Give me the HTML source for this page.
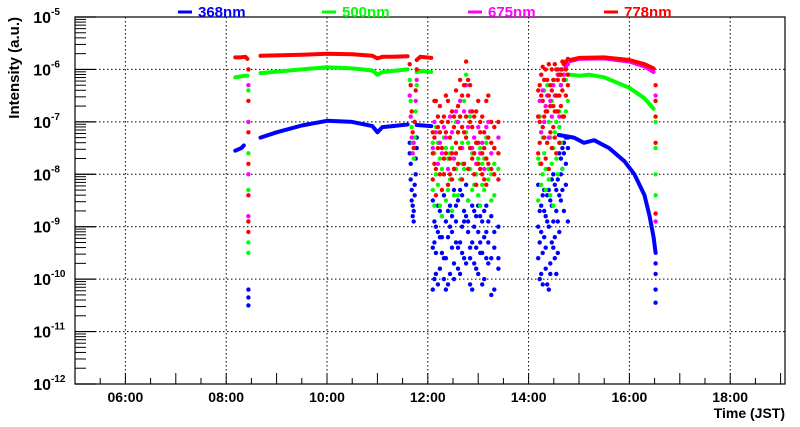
<!DOCTYPE html>
<html><head><meta charset="utf-8"><style>
html,body{margin:0;padding:0;background:#fff;}
svg{display:block;font-family:"Liberation Sans",Arial,sans-serif;font-weight:bold;}
</style></head><body>
<svg id="chart" width="800" height="427" viewBox="0 0 800 427" xmlns="http://www.w3.org/2000/svg">
<g id="grid"></g>
<g id="marks"></g>
<g id="axes"></g>
<g id="legend"></g>
</svg>
<script>
// ---- data (time in hours, values as log10 intensity) ----
const xTickLabels = ["06:00","08:00","10:00","12:00","14:00","16:00","18:00"];
const xTickHours = [6,8,10,12,14,16,18];
const yDecades = [-12,-11,-10,-9,-8,-7,-6,-5];

const seriesNames = ["368nm","500nm","675nm","778nm"];
const seriesColors = ["#0000ff","#00ff00","#ff00ff","#ff0000"];

// smooth segments
const redSeg1T = [8.18,8.28,8.38,8.42];
const redSeg1V = [-5.77,-5.77,-5.76,-5.8];
const redSeg2T = [8.68,9.5,10.0,10.5,10.9,11.0,11.1,11.3,11.6];
const redSeg2V = [-5.74,-5.72,-5.70,-5.71,-5.74,-5.79,-5.76,-5.76,-5.75];
const redSeg3T = [11.78,11.85,12.07];
const redSeg3V = [-5.82,-5.76,-5.78];
const redSeg4T = [14.83,15.0,15.5,16.0,16.3,16.48];
const redSeg4V = [-5.82,-5.78,-5.77,-5.82,-5.9,-5.98];
const magSeg4T = [14.83,15.0,15.5,16.0,16.3,16.48];
const magSeg4V = [-5.84,-5.8,-5.79,-5.85,-5.94,-6.05];

const greenSeg1T = [8.18,8.38,8.42];
const greenSeg1V = [-6.15,-6.12,-6.12];
const greenSeg2T = [8.68,9.5,10.0,10.5,10.9,11.0,11.1,11.6];
const greenSeg2V = [-6.07,-6.0,-5.96,-5.98,-6.02,-6.1,-6.05,-6.0];
const greenSeg3T = [11.78,11.9,12.07];
const greenSeg3V = [-6.05,-6.03,-6.05];
const greenSeg4T = [14.83,15.0,15.2,15.5,16.0,16.3,16.48];
const greenSeg4V = [-6.1,-6.12,-6.1,-6.15,-6.35,-6.55,-6.75];

const blueSeg1T = [8.18,8.30,8.35];
const blueSeg1V = [-7.55,-7.5,-7.45];
const blueSeg2T = [8.68,9.0,9.5,10.0,10.5,10.9,11.0,11.1,11.3,11.6];
const blueSeg2V = [-7.3,-7.2,-7.07,-6.98,-7.0,-7.08,-7.2,-7.1,-7.08,-7.05];
const blueSeg3T = [11.78,12.07];
const blueSeg3V = [-7.06,-7.08];
const blueSeg4T = [14.6,14.9,15.1,15.3,15.6,15.9,16.1,16.3,16.4,16.48,16.52];
const blueSeg4V = [-7.25,-7.3,-7.4,-7.35,-7.5,-7.75,-8.0,-8.4,-8.8,-9.2,-9.5];

// scatter clusters
const tA = [11.64,11.66,11.68,11.70,11.72,11.74,11.76,11.78];
const redA = [-5.9,-6.3,-6.8,-7.2,-7.5,-7.0,-6.4,-6.0];
const greenA = [-6.2,-6.6,-7.1,-7.4,-7.7,-7.3,-6.8,-6.3];
const blueA = [-7.4,-7.8,-8.3,-8.6,-8.9,-8.4,-8.0,-7.5];
const blueA2 = [-7.6,-8.1,-8.5,-8.8,-8.7,-8.2,-7.7,-7.3];
const magA = [-6.5,-6.9,-7.3,-7.6,-7.4,-7.0,-6.6,-6.2];

const tB = [12.10,12.13,12.16,12.20,12.24,12.28,12.32,12.36,12.40,12.44,12.48,12.52,12.56,12.60,12.64,12.68,12.72,12.76,12.80,12.84,12.88,12.92,12.96,13.00,13.04,13.08,13.12,13.16,13.20,13.26,13.32,13.40];
const redB1 = [-7.2,-7.8,-6.6,-7.5,-8.0,-7.0,-6.9,-7.6,-8.2,-7.3,-6.8,-7.9,-7.4,-6.7,-6.2,-7.1,-6.3,-5.85,-6.5,-7.0,-7.7,-6.9,-7.4,-7.8,-7.2,-8.0,-7.5,-6.6,-7.3,-7.9,-7.1,-7.6];
const redB2 = [-8.1,-6.6,-7.9,-6.9,-7.2,-8.3,-7.7,-6.5,-7.0,-8.0,-7.6,-7.1,-6.4,-7.8,-7.5,-8.1,-7.2,-6.9,-7.9,-6.3,-6.8,-7.6,-8.2,-6.6,-7.9,-6.9,-8.1,-7.7,-6.5,-7.4,-8.0,-7.0];
const redB3 = [-7.6,-7.3,-8.4,-7.1,-6.7,-7.5,-8.0,-7.2,-6.6,-7.7,-8.1,-6.9,-7.6,-7.2,-6.9,-6.5,-7.8,-7.3,-6.2,-7.5,-7.1,-8.0,-6.8,-7.4,-7.0,-7.6,-7.2,-8.2,-7.8,-7.0,-7.5,-8.1];
const greenB1 = [-8.3,-7.6,-8.0,-7.4,-8.6,-7.9,-7.3,-8.5,-7.7,-8.1,-7.5,-8.4,-7.9,-7.2,-6.9,-7.8,-6.6,-6.1,-7.4,-7.9,-8.3,-7.6,-8.0,-8.4,-7.5,-8.2,-7.7,-7.3,-8.1,-8.5,-7.8,-7.9];
const greenB2 = [-7.4,-8.6,-7.1,-8.2,-7.7,-8.8,-8.0,-7.5,-8.3,-7.6,-8.7,-7.9,-7.0,-8.4,-8.1,-7.4,-7.9,-7.2,-8.5,-6.9,-7.6,-8.2,-7.4,-7.7,-8.6,-7.8,-8.3,-7.4,-7.9,-8.0,-8.4,-7.6];
const blueB1 = [-9.4,-10.0,-9.0,-8.6,-9.8,-9.2,-8.4,-9.6,-10.1,-9.0,-8.8,-9.7,-9.3,-8.5,-8.3,-9.5,-8.7,-8.2,-9.1,-9.6,-10.2,-9.0,-9.4,-9.9,-8.8,-9.5,-9.2,-8.6,-9.7,-10.3,-9.1,-9.6];
const blueB2 = [-8.5,-9.3,-9.9,-9.1,-8.7,-9.5,-10.0,-8.9,-9.2,-8.6,-9.4,-8.3,-8.9,-9.8,-9.3,-8.4,-9.6,-8.8,-8.9,-9.4,-8.6,-9.7,-8.8,-9.1,-9.5,-8.9,-10.0,-9.6,-9.3,-8.8,-9.4,-9.0];
const blueB3 = [-10.2,-8.9,-9.5,-10.1,-9.2,-8.8,-9.6,-10.2,-8.7,-9.9,-9.1,-10.0,-8.6,-9.4,-9.9,-9.0,-8.9,-9.7,-8.5,-10.1,-9.3,-8.7,-9.8,-8.6,-9.3,-10.1,-8.7,-9.1,-8.9,-9.6,-10.2,-9.8];
const magB = [-7.5,-7.0,-7.2,-7.8,-7.4,-7.6,-7.1,-7.3,-7.9,-6.9,-7.2,-7.7,-6.8,-7.0,-6.6,-7.5,-6.8,-6.3,-7.1,-6.8,-7.5,-7.3,-7.8,-7.1,-7.6,-7.4,-7.9,-7.1,-7.0,-7.6,-7.5,-7.3];

const tC = [14.19,14.22,14.25,14.28,14.31,14.34,14.37,14.40,14.43,14.46,14.49,14.52,14.55,14.58,14.61,14.64,14.67,14.70,14.74,14.78];
const redC1 = [-6.4,-7.0,-6.1,-6.6,-7.3,-6.0,-6.8,-5.9,-6.3,-7.5,-6.2,-5.9,-6.5,-6.0,-6.1,-6.7,-5.85,-5.9,-5.85,-5.8];
const redC2 = [-7.6,-6.3,-7.8,-5.95,-6.9,-7.7,-6.2,-7.9,-6.7,-6.4,-7.1,-6.8,-7.6,-6.2,-7.4,-6.1,-6.4,-6.9,-6.0,-6.3];
const redC3 = [-6.9,-7.4,-6.5,-7.1,-6.2,-6.8,-7.4,-6.5,-7.2,-6.0,-6.7,-7.3,-6.0,-6.8,-6.5,-6.0,-6.9,-6.2,-6.5,-6.1];
const greenC1 = [-7.7,-6.9,-8.2,-7.3,-6.4,-7.9,-6.3,-7.0,-8.4,-6.6,-7.5,-6.2,-7.0,-6.5,-6.8,-6.3,-6.4,-6.2,-6.2,-6.1];
const greenC2 = [-8.5,-7.8,-7.2,-8.0,-7.6,-8.3,-7.4,-8.1,-7.3,-7.8,-8.6,-7.2,-7.7,-8.0,-7.1,-7.4,-7.9,-6.9,-6.8,-6.6];
const blueC1 = [-9.0,-10.0,-8.6,-9.5,-8.3,-9.8,-8.9,-10.2,-8.5,-9.3,-8.0,-9.6,-8.7,-8.1,-7.6,-8.5,-7.5,-7.4,-7.3,-7.3];
const blueC2 = [-9.6,-8.7,-9.9,-8.4,-9.2,-8.8,-10.1,-8.3,-9.7,-8.6,-9.4,-8.2,-9.9,-8.9,-9.1,-8.0,-7.9,-8.7,-7.8,-8.9];
const blueC3 = [-8.2,-9.3,-9.1,-10.1,-8.7,-9.4,-8.4,-9.0,-9.9,-8.1,-8.9,-9.2,-8.3,-9.5,-8.4,-7.7,-8.3,-7.6,-8.2,-7.5];
const magC = [-6.9,-6.6,-7.2,-6.4,-7.0,-6.7,-6.5,-7.3,-6.6,-6.9,-6.3,-6.5,-6.8,-6.1,-6.9,-6.3,-6.0,-6.1,-5.95,-5.9];

// drops
const redDrop1 = [-6.0,-6.6,-7.2,-7.8,-8.4,-8.9,-9.1];
const greenDrop1 = [-6.4,-7.0,-7.6,-8.3,-8.9,-9.3,-9.5];
const blueDrop1 = [-10.2,-10.35,-10.5];
const magDrop1 = [-6.3,-7.0,-8.0,-8.8];
const redDrop2 = [-6.3,-6.6,-6.9,-7.4,-8.75];
const magDrop2 = [-6.5,-8.9];
const greenDrop2 = [-7.0,-7.5,-8.0,-8.4];
const blueDrop2 = [-9.7,-9.9,-10.2,-10.45];
const drop1Time = 8.44;
const drop2Time = 16.52;

// ---- axes ----
const L=75,R=785,T=17,B=384;
const tMin=5, tMax=5+(R-L)/50.4;
const x = t => L + (t - tMin) / (tMax - tMin) * (R - L);
const y = v => T + (-5 - v) / 7 * (B - T);
const NS="http://www.w3.org/2000/svg";
function mk(tag, attrs, parent){const e=document.createElementNS(NS,tag);for(const k in attrs)e.setAttribute(k,attrs[k]);parent.appendChild(e);return e;}
const grid=document.getElementById('grid'),marks=document.getElementById('marks'),axes=document.getElementById('axes'),legend=document.getElementById('legend');

xTickHours.forEach(h=>{
  const g=mk('line',{x1:x(h),x2:x(h),y1:T,y2:B,stroke:'#000','stroke-width':1,'stroke-dasharray':'1.5,2.5'},grid);
  
  
});
yDecades.slice(1,-1).forEach(d=>{
  const g=mk('line',{x1:L,x2:R,y1:y(d),y2:y(d),stroke:'#000','stroke-width':1,'stroke-dasharray':'1.5,2.5'},grid);
  
  
});

function seg(ts,vs,color,w){
  const pts=ts.map((t,i)=>x(t).toFixed(1)+','+y(vs[i]).toFixed(1)).join(' ');
  const p=mk('polyline',{points:pts,fill:'none',stroke:color,'stroke-width':w,'stroke-linejoin':'round','stroke-linecap':'round'},marks);
  
  
}
function scat(ts,vs,color){
  vs.forEach((v,i)=>{
    const t=Array.isArray(ts)?ts[i]:ts;
    const c=mk('circle',{cx:x(t).toFixed(1),cy:y(v).toFixed(1),r:2.2,fill:color},marks);
    
    
  });
}
const [BL,GR,MG,RD]=seriesColors;
// blue
seg(blueSeg1T,blueSeg1V,BL,4);seg(blueSeg2T,blueSeg2V,BL,4);seg(blueSeg3T,blueSeg3V,BL,4);seg(blueSeg4T,blueSeg4V,BL,4);
scat(tA,blueA,BL);scat(tA,blueA2,BL);scat(tB,blueB1,BL);scat(tB,blueB2,BL);scat(tB,blueB3,BL);scat(tC,blueC1,BL);scat(tC,blueC2,BL);scat(tC,blueC3,BL);
scat(drop1Time,blueDrop1,BL);scat(drop2Time,blueDrop2,BL);
// green
seg(greenSeg1T,greenSeg1V,GR,4);seg(greenSeg2T,greenSeg2V,GR,4);seg(greenSeg3T,greenSeg3V,GR,4);seg(greenSeg4T,greenSeg4V,GR,4);
scat(tA,greenA,GR);scat(tB,greenB1,GR);scat(tB,greenB2,GR);scat(tC,greenC1,GR);scat(tC,greenC2,GR);
scat(drop1Time,greenDrop1,GR);scat(drop2Time,greenDrop2,GR);
// magenta
seg(magSeg4T,magSeg4V,MG,4);
scat(tA,magA,MG);scat(tB,magB,MG);scat(tC,magC,MG);scat(drop1Time,magDrop1,MG);scat(drop2Time,magDrop2,MG);
// red
seg(redSeg1T,redSeg1V,RD,4);seg(redSeg2T,redSeg2V,RD,4);seg(redSeg3T,redSeg3V,RD,4);seg(redSeg4T,redSeg4V,RD,4);
scat(tA,redA,RD);scat(tB,redB1,RD);scat(tB,redB2,RD);scat(tB,redB3,RD);scat(tC,redC1,RD);scat(tC,redC2,RD);scat(tC,redC3,RD);
scat(drop1Time,redDrop1,RD);scat(drop2Time,redDrop2,RD);

// frame
const fr=mk('rect',{x:L,y:T,width:R-L,height:B-T,fill:'none',stroke:'#000','stroke-width':1.2},axes);


// y ticks
yDecades.forEach((d,i)=>{
  mk('line',{x1:L,x2:L+21,y1:y(d),y2:y(d),stroke:'#000','stroke-width':1.2},axes);
  const tx=mk('text',{x:L-24,y:y(d)+6,'font-size':16,'text-anchor':'end'},axes);
  
  
  tx.textContent='10';
  const sp=mk('text',{x:L-24,y:y(d)-2,'font-size':10,'text-anchor':'start'},axes);
  sp.textContent=String(d);
  if(i<yDecades.length-1){
    for(let m=2;m<=9;m++){const yy=y(d+Math.log10(m));mk('line',{x1:L,x2:L+11,y1:yy,y2:yy,stroke:'#000','stroke-width':1},axes);}
  }
});
// x ticks
for(let h=5.5;h<tMax;h+=0.5){
  const major=Math.abs(h-Math.round(h))<0.01;
  mk('line',{x1:x(h),x2:x(h),y1:B,y2:B-(major?11:6),stroke:'#000','stroke-width':1},axes);
}
xTickHours.forEach((h,i)=>{
  const tx=mk('text',{x:x(h),y:B+18,'font-size':14,'text-anchor':'middle'},axes);
  
  
  tx.textContent=xTickLabels[i];
});
const xt=mk('text',{x:R,y:418,'font-size':14,'text-anchor':'end'},axes);


xt.textContent='Time (JST)';
const yt=mk('text',{x:0,y:0,'font-size':15,'text-anchor':'end',transform:'translate(19,17) rotate(-90)'},axes);


yt.textContent='Intensity (a.u.)';

// legend
const legX=[178,322,468,604];
seriesNames.forEach((n,i)=>{
  const g=mk('g',{},legend);
  
  
  mk('line',{x1:legX[i],x2:legX[i]+14,y1:12,y2:12,stroke:seriesColors[i],'stroke-width':3},g);
  const t=mk('text',{x:legX[i]+20,y:17,'font-size':15,fill:seriesColors[i]},g);
  t.textContent=n;
});
</script>
</body></html>
